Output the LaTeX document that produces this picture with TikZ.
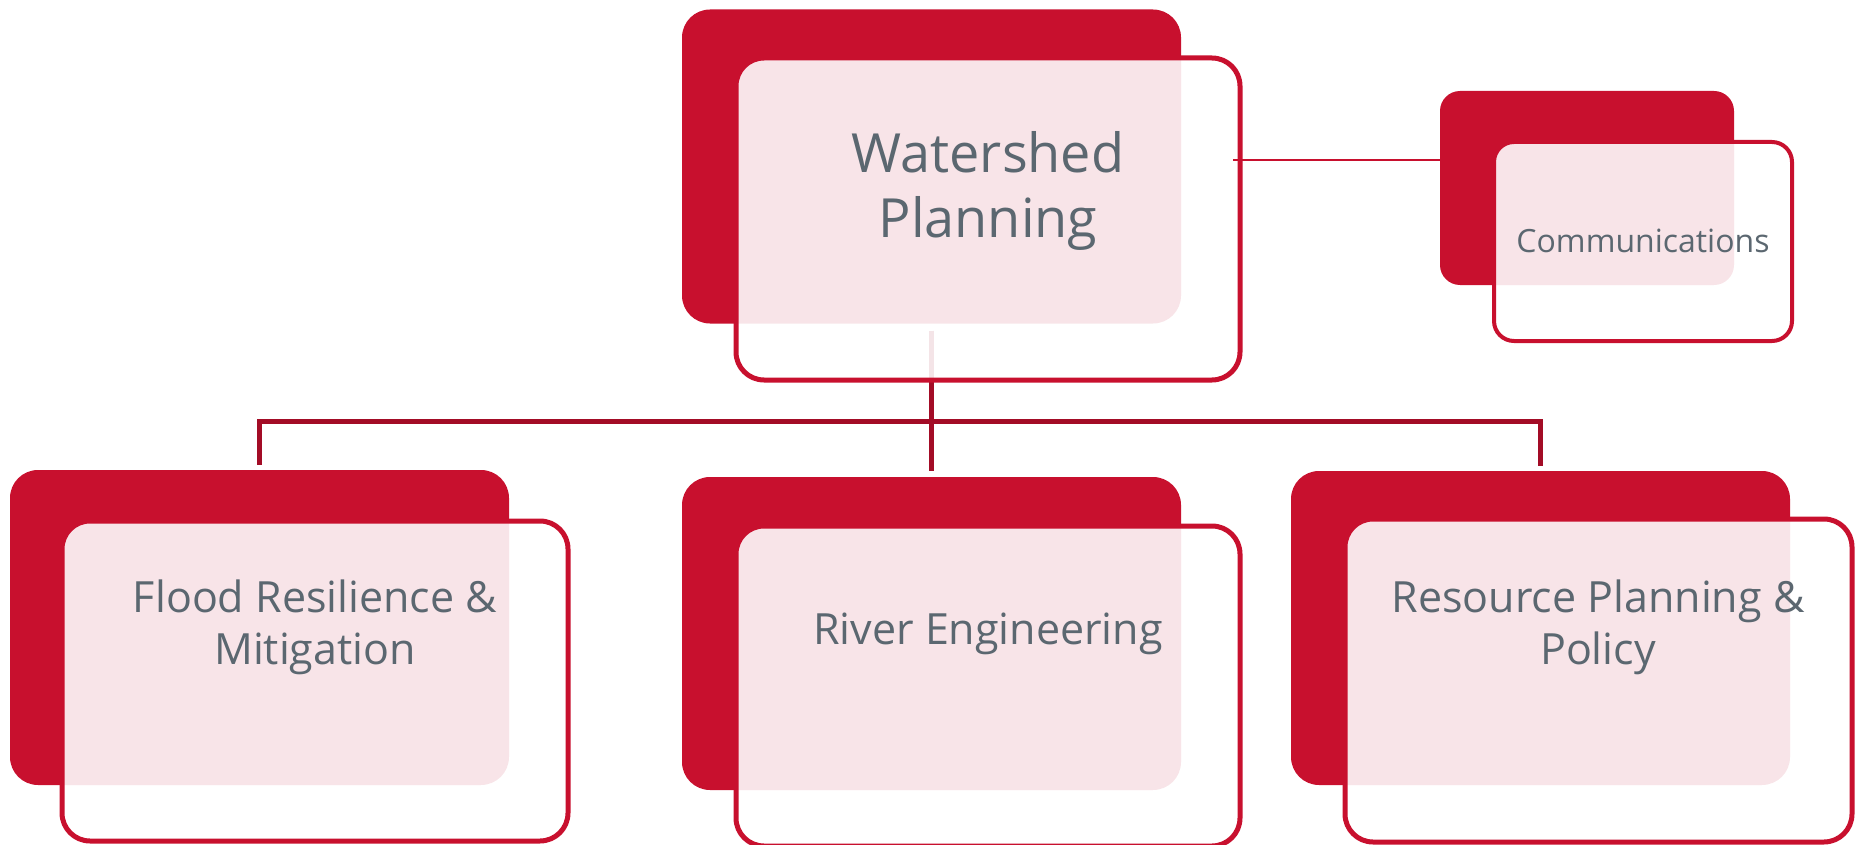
\documentclass[tikz,border=0pt]{standalone}
\usepackage{fontspec}
\setmainfont{Open Sans}
\definecolor{boxred}{HTML}{C8102E}
\definecolor{linkred}{HTML}{A30C26}
\definecolor{labelgray}{HTML}{5B6770}
\begin{document}
\begin{tikzpicture}[x=1pt, y=-1pt,
    backbox/.style={fill=boxred, rounded corners=28pt, anchor=north west, inner sep=0pt, outer sep=0pt},
    frontbox/.style={draw=boxred, line width=5pt, fill=white, fill opacity=0.89, rounded corners=28pt, anchor=north west, inner sep=0pt, outer sep=0pt},
    link/.style={draw=linkred, line width=5pt},
    tag/.style={text=labelgray, align=center, inner sep=0pt}]

    \useasboundingbox (0,0) rectangle (1861,845);

    % back panels
    \node[backbox, minimum width=499pt, minimum height=314pt] (wsback) at (682,9.5) {};
    \node[backbox, rounded corners=20pt, minimum width=294pt, minimum height=194pt] (commback) at (1440,91) {};
    \node[backbox, minimum width=499pt, minimum height=315pt] (floodback) at (10,470) {};
    \node[backbox, minimum width=499pt, minimum height=313pt] (riverback) at (682,477) {};
    \node[backbox, minimum width=499pt, minimum height=314pt] (resback) at (1291,471) {};

    % tree lines
    \coordinate (bus) at (931.5,421);
    \draw[link, shorten <=7pt, shorten >=6pt] (wsback.south) -- (riverback.north);
    \draw[link, shorten <=7pt, shorten >=5pt] (wsback.south) -- (bus) -| (floodback.north);
    \draw[link, shorten >=5pt] (bus) -| (resback.north);

    % front panels
    \node[frontbox, minimum width=504pt, minimum height=322pt] (ws) at (736,58) {};
    \node[frontbox, line width=4pt, rounded corners=20pt, minimum width=298pt, minimum height=199pt] (comm) at (1494,142) {};
    \node[frontbox, minimum width=506pt, minimum height=320pt] (flood) at (62,521) {};
    \node[frontbox, minimum width=504pt, minimum height=320pt] (river) at (736,526) {};
    \node[frontbox, minimum width=507pt, minimum height=323pt] (res) at (1345,519) {};

    \coordinate (commtap) at (1233,160);
    \draw[boxred, line width=2pt] (commtap) -- (commtap -| commback.west);

    % labels
    \node[tag, font=\fontsize{54}{65}\selectfont] (wstext) at (988,190.5) {Watershed\\Planning};
    \node[tag, font=\fontsize{32}{40}\selectfont, anchor=base] (commtext) at (1643,252) {Communications};
    \node[tag, font=\fontsize{43}{52}\selectfont] (floodtext) at (315,627) {Flood Resilience \&\\Mitigation};
    \node[tag, font=\fontsize{43}{52}\selectfont, anchor=base] (rivertext) at (988,644) {River Engineering};
    \node[tag, font=\fontsize{43}{52}\selectfont] (restext) at (1598,627) {Resource Planning \&\\Policy};

\end{tikzpicture}
\end{document}
